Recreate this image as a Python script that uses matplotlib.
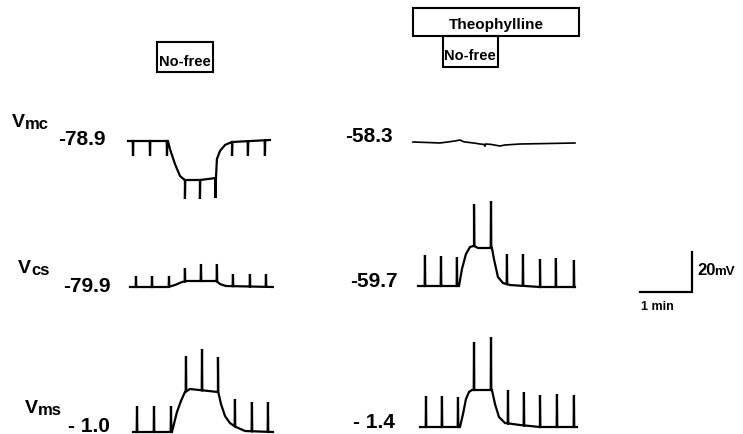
import matplotlib
matplotlib.use('Agg')
import matplotlib.pyplot as plt
from matplotlib.patches import Rectangle
import numpy as np

plt.rcParams.update({
    'font.family': ['Liberation Sans', 'DejaVu Sans'],
    'font.weight': 'bold',
    'figure.facecolor': 'white',
})

W, H = 743, 435
PX_PER_S = 52 / 60.0     # 1 min scale bar ~52 px
PX_PER_MV = 40 / 20.0    # 20 mV scale bar ~40 px

# ---- traces: baseline nodes (s, mV) and pulses (s, tip mV)
# control, left column
vmc_c_t = [0, 46.1, 48.4, 54.2, 60, 65.7, 83, 101.5, 102.6, 106.1, 111.9, 120, 163.8]
vmc_c_v = [0, 0, -4, -11.5, -17.5, -19.5, -19.5, -18.5, -9, -5, -2, -0.5, 0.5]
vmc_c_pt = [5.8, 25.4, 45.0, 65.7, 83.0, 101.0, 120.0, 138.4, 158.0]
vmc_c_tip = [-7.5, -7.5, -7.5, -29, -29, -28.5, -7.5, -7.5, -7.5]

vcs_c_t = [2.3, 46.1, 54.2, 62.3, 68, 101.5, 106.1, 113, 167.2]
vcs_c_v = [0, 0, 1, 2.5, 3, 3, 1.5, 0.5, 0]
vcs_c_pt = [9.2, 27.7, 47.3, 65.7, 84.2, 102.6, 121.1, 140.7, 159.2]
vcs_c_tip = [5.5, 5.5, 5.5, 9.5, 11.5, 11.5, 6.5, 6.5, 6.5]

vms_c_t = [5.8, 50.7, 56.5, 61.1, 65.7, 71.5, 103.8, 107.3, 111.9, 117.6, 124.6, 135, 167.2]
vms_c_v = [0, 0, 10, 15.5, 20, 21.5, 20, 14, 8, 4.5, 2.5, 0.5, 0]
vms_c_pt = [10.4, 30, 49.6, 66.9, 85.4, 103.8, 123.4, 143, 161.5]
vms_c_tip = [13, 13, 13, 38, 41.5, 37.5, 16.5, 15, 15]

# theophylline, right column
vmc_t_t = [0, 20, 31.1, 48.4, 54.2, 58, 60, 70, 77.3, 82, 83, 84, 90, 100.3, 106.1, 123.4, 150, 186.9]
vmc_t_v = [0, -0.3, -0.5, 0.5, 1, 0.2, 0, -0.5, -1, -1.2, -2.2, -1, -1.2, -2, -1.5, -1, -0.8, -0.5]

vcs_t_t = [5.8, 53.1, 56.5, 61.1, 65.7, 70.4, 75, 91.1, 93.4, 98, 103.8, 111.9, 146.5, 186.9]
vcs_t_v = [0, 0, 8.5, 16, 19.5, 20, 19, 19, 13.5, 4.5, 1.5, 0.5, -0.5, -0.5]
vcs_t_pt = [13.8, 32.3, 50.7, 70.4, 90, 108.4, 126.9, 146.5, 164.9, 185.7]
vcs_t_tip = [15.5, 15, 14.5, 41, 42.5, 16, 16, 13.5, 14, 13]

vms_t_t = [8.1, 54.2, 57.7, 61.1, 64.6, 68, 91.1, 94.6, 99.2, 106.1, 123.4, 146.5, 189.2]
vms_t_v = [0, 0, 6.5, 14, 17.5, 18.5, 18.5, 11.5, 5, 2, 1, 0, 0]
vms_t_pt = [15, 33.4, 51.9, 70.4, 90, 109.6, 128, 146.5, 166.1, 185.7]
vms_t_tip = [15.5, 15.5, 15, 42.5, 45, 18.5, 17.5, 16, 16.5, 16]

# labels
row_names = [('V', 'mc'), ('V', 'cs'), ('V', 'ms')]
ctrl_values = ['-78.9', '-79.9', '- 1.0']
theo_values = ['-58.3', '-59.7', '- 1.4']
scale_t, scale_v = 60, 20


def trace_axes(fig, x0, y0, tmin=-10, tmax=200, vmin=-40, vmax=60):
    # x0, y0: pixel position (from top-left) of t=0, v=0
    left = (x0 + tmin * PX_PER_S) / W
    width = (tmax - tmin) * PX_PER_S / W
    bottom = (H - y0 + vmin * PX_PER_MV) / H
    height = (vmax - vmin) * PX_PER_MV / H
    ax = fig.add_axes([left, bottom, width, height])
    ax.set_xlim(tmin, tmax)
    ax.set_ylim(vmin, vmax)
    ax.axis('off')
    ax.patch.set_alpha(0)
    return ax


def draw_trace(ax, bt, bv, pt=(), tip=(), lw=1.6, half=0.35):
    ts, vs = list(bt), list(bv)
    for p, tp in zip(pt, tip):
        b = np.interp(p, bt, bv)
        ts += [p - half, p, p + half]
        vs += [b, tp, b]
    order = np.argsort(ts, kind='stable')
    ax.plot(np.array(ts)[order], np.array(vs)[order], color='black',
            lw=lw, solid_joinstyle='miter', clip_on=False)


fig = plt.figure(figsize=(W / 100, H / 100), dpi=100)
ov = fig.add_axes([0, 0, 1, 1])
ov.set_xlim(0, W)
ov.set_ylim(H, 0)
ov.axis('off')

# traces
draw_trace(trace_axes(fig, 128, 142), vmc_c_t, vmc_c_v, vmc_c_pt, vmc_c_tip)
draw_trace(trace_axes(fig, 128, 288), vcs_c_t, vcs_c_v, vcs_c_pt, vcs_c_tip)
draw_trace(trace_axes(fig, 128, 433), vms_c_t, vms_c_v, vms_c_pt, vms_c_tip)
draw_trace(trace_axes(fig, 413, 143), vmc_t_t, vmc_t_v, lw=1.2)
draw_trace(trace_axes(fig, 413, 287), vcs_t_t, vcs_t_v, vcs_t_pt, vcs_t_tip)
draw_trace(trace_axes(fig, 413, 428), vms_t_t, vms_t_v, vms_t_pt, vms_t_tip)

# scale bar
sb = trace_axes(fig, 640, 293)
sb.plot([0, scale_t, scale_t], [0, 0, scale_v], color='black', lw=1.6,
        solid_joinstyle='miter')
ov.text(697, 275, '20', fontsize=12, ha='left', va='baseline')
ov.text(714, 275, 'mV', fontsize=9.5, ha='left', va='baseline')
ov.text(641, 310, '1 min', fontsize=9, ha='left', va='baseline')

# row labels
name_pos = [(12, 127), (18, 273), (25, 413)]
for (v, sub), (x, y) in zip(row_names, name_pos):
    ov.text(x, y, v, fontsize=14, ha='left', va='baseline')
    ov.text(x + 13, y + 2, sub, fontsize=12, ha='left', va='baseline')

for s, (x, y) in zip(ctrl_values, [(58, 145), (63, 292), (68, 432)]):
    ov.text(x, y, s, fontsize=15, ha='left', va='baseline')
for s, (x, y) in zip(theo_values, [(345, 142), (350, 287), (353, 428)]):
    ov.text(x, y, s, fontsize=15, ha='left', va='baseline')

# solution boxes
boxes = [((157, 43, 56, 30), 'No-free', 10.5, (185, 66)),
         ((413, 9, 166, 28), 'Theophylline', 11, (496, 29)),
         ((443, 37, 55, 31), 'No-free', 10.5, (470, 60))]
for (bx, by, bw, bh), label, fs, (tx, ty) in boxes:
    ov.add_patch(Rectangle((bx, by), bw, bh, fill=False, lw=1.5,
                           edgecolor='black'))
    ov.text(tx, ty, label, fontsize=fs, ha='center', va='baseline')

fig.savefig('out.png', dpi=100)
plt.close(fig)
